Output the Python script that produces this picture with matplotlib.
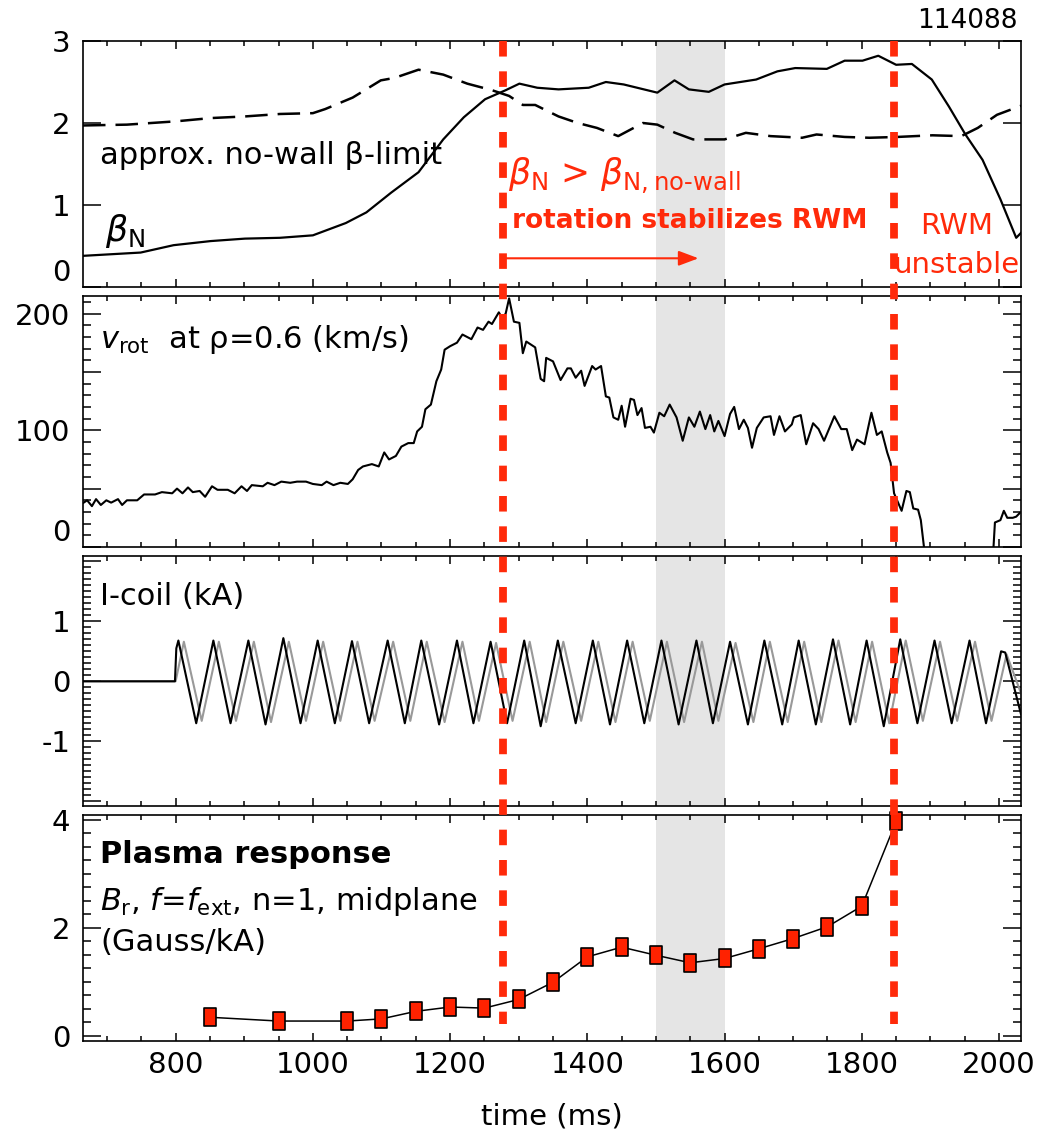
import numpy as np
import matplotlib
matplotlib.use('Agg')
import matplotlib.pyplot as plt
from matplotlib.lines import Line2D
from matplotlib.path import Path
from matplotlib.ticker import MultipleLocator, FuncFormatter
from matplotlib.transforms import blended_transform_factory

plt.rcParams['font.family'] = ['DejaVu Sans']
plt.rcParams['mathtext.fontset'] = 'dejavusans'
plt.rcParams['axes.linewidth'] = 1.2

RED = '#ff2a0a'

# ---- panel 1: beta_N and approx no-wall limit
beta_t = [665, 749, 797, 851, 901, 952, 1000, 1048, 1078, 1114, 1154, 1190, 1220, 1251, 1281,
          1301, 1327, 1358, 1402, 1427, 1453, 1502, 1527, 1548, 1577, 1600, 1646, 1677, 1703,
          1749, 1775, 1801, 1824, 1850, 1873, 1902, 1927, 1951, 1976, 2002, 2025, 2032]
beta_n = [0.38, 0.42, 0.51, 0.56, 0.59, 0.60, 0.63, 0.78, 0.91, 1.15, 1.40, 1.80, 2.07, 2.29, 2.40,
          2.48, 2.43, 2.41, 2.43, 2.50, 2.47, 2.37, 2.52, 2.41, 2.38, 2.47, 2.53, 2.63, 2.67,
          2.66, 2.76, 2.76, 2.82, 2.71, 2.72, 2.53, 2.20, 1.86, 1.55, 1.07, 0.60, 0.66]
nowall_t = [665, 729, 800, 851, 901, 952, 1000, 1018, 1058, 1099, 1119, 1154, 1190, 1225, 1261,
            1286, 1306, 1324, 1358, 1386, 1414, 1445, 1481, 1502, 1528, 1554, 1600, 1631, 1667,
            1713, 1734, 1775, 1811, 1852, 1903, 1945, 1969, 1997, 2032]
nowall = [1.97, 1.98, 2.02, 2.06, 2.08, 2.11, 2.12, 2.17, 2.31, 2.52, 2.55, 2.65, 2.59, 2.48, 2.40,
          2.33, 2.22, 2.22, 2.08, 2.00, 1.94, 1.84, 2.00, 1.98, 1.88, 1.80, 1.80, 1.88, 1.84,
          1.82, 1.86, 1.83, 1.82, 1.83, 1.85, 1.84, 1.94, 2.10, 2.21]

# ---- panel 2: rotation at rho=0.6
vrot_t = [666, 671, 678, 684, 691, 699, 706, 716, 722, 729, 744, 754, 770, 780, 795, 802, 810,
          818, 825, 835, 843, 853, 861, 876, 886, 896, 904, 911, 927, 934, 944, 954, 967, 977,
          990, 1000, 1013, 1020, 1030, 1040, 1051, 1058, 1066, 1073, 1086, 1096, 1104, 1111,
          1121, 1129, 1139, 1147, 1152, 1159, 1164, 1172, 1180, 1187, 1192, 1200, 1210, 1218,
          1231, 1240, 1248, 1256, 1261, 1271, 1276, 1281, 1286, 1293, 1301, 1306, 1311, 1324,
          1332, 1337, 1340, 1350, 1361, 1371, 1376, 1383, 1391, 1396, 1407, 1412, 1420, 1427,
          1432, 1438, 1445, 1450, 1455, 1463, 1468, 1473, 1479, 1484, 1492, 1497, 1505, 1512,
          1520, 1530, 1539, 1548, 1556, 1564, 1572, 1579, 1585, 1591, 1600, 1608, 1614, 1621,
          1628, 1634, 1640, 1647, 1657, 1667, 1672, 1680, 1688, 1698, 1701, 1711, 1719, 1729,
          1737, 1745, 1760, 1770, 1778, 1786, 1793, 1804, 1814, 1822, 1829, 1837, 1842, 1847,
          1858, 1865, 1870, 1875, 1882, 1886, 1891, 1896, 1988, 1994, 2002, 2007, 2012, 2020,
          2025, 2030]
vrot = [38, 40, 35, 41, 36, 40, 38, 41, 36, 40, 40, 45, 45, 47, 46, 50, 46,
        51, 47, 48, 43, 52, 49, 49, 46, 52, 48, 53, 52, 55, 53, 56, 55, 56,
        56, 54, 53, 56, 53, 55, 54, 58, 66, 69, 71, 69, 81, 75,
        78, 86, 89, 89, 99, 103, 118, 122, 142, 152, 169, 172, 175, 182,
        178, 188, 186, 193, 191, 201, 196, 200, 213, 193, 192, 166, 176, 171,
        144, 142, 162, 159, 143, 153, 153, 145, 151, 138, 155, 152, 155, 129,
        128, 111, 109, 121, 103, 127, 126, 113, 119, 102, 103, 98, 115, 112,
        122, 111, 91, 111, 103, 116, 101, 113, 99, 108, 95, 114, 120, 101,
        109, 102, 85, 102, 111, 112, 96, 112, 99, 105, 111, 113, 88, 106,
        101, 91, 112, 101, 101, 83, 92, 88, 115, 96, 99, 81, 72, 46,
        31, 48, 47, 33, 32, 23, -2, -40, -40, 21, 23, 31, 25, 25,
        26, 29]

# ---- panel 3: I-coil current (extrema)
coil_t = [665, 799, 801, 804, 830, 855, 880, 906, 931, 957, 982, 1007, 1032, 1057, 1082, 1109,
          1134, 1158, 1184, 1210, 1234, 1259, 1283, 1308, 1332, 1357, 1383, 1408, 1433, 1458,
          1483, 1508, 1533, 1559, 1583, 1608, 1634, 1658, 1684, 1708, 1733, 1758, 1783, 1807,
          1832, 1856, 1881, 1906, 1931, 1957, 1981, 2003, 2009, 2032]
coil = [0.0, 0.0, 0.55, 0.68, -0.70, 0.68, -0.70, 0.68, -0.72, 0.72, -0.70, 0.68, -0.70, 0.67,
        -0.70, 0.68, -0.70, 0.68, -0.72, 0.68, -0.70, 0.66, -0.70, 0.68, -0.75, 0.68, -0.70,
        0.68, -0.72, 0.68, -0.70, 0.68, -0.72, 0.68, -0.70, 0.66, -0.72, 0.68, -0.72, 0.68,
        -0.72, 0.70, -0.72, 0.68, -0.75, 0.70, -0.70, 0.68, -0.70, 0.68, -0.70, 0.50, 0.48, -0.55]
coil2_t = [665, 800, 812, 838, 863, 888, 914, 939, 965, 990, 1015, 1040, 1065, 1090, 1117, 1142,
           1166, 1192, 1218, 1242, 1267, 1291, 1316, 1340, 1365, 1391, 1416, 1441, 1466, 1491,
           1516, 1541, 1567, 1591, 1616, 1642, 1666, 1692, 1716, 1741, 1766, 1791, 1815, 1840,
           1864, 1889, 1914, 1939, 1965, 1989, 2011, 2032]
coil2 = [0.0, 0.0, 0.66, -0.66, 0.66, -0.66, 0.66, -0.68, 0.66, -0.66, 0.66, -0.66, 0.66, -0.66,
         0.66, -0.66, 0.66, -0.68, 0.66, -0.66, 0.64, -0.66, 0.66, -0.68, 0.66, -0.66, 0.66,
         -0.68, 0.66, -0.66, 0.66, -0.68, 0.66, -0.66, 0.64, -0.68, 0.66, -0.68, 0.66, -0.68,
         0.68, -0.68, 0.66, -0.70, 0.68, -0.66, 0.66, -0.66, 0.66, -0.66, 0.45, -0.20]

# ---- panel 4: plasma response
resp_t = [850, 950, 1050, 1100, 1150, 1200, 1250, 1300, 1350, 1400, 1450, 1500, 1550, 1600,
          1650, 1700, 1750, 1800, 1850]
resp = [0.34, 0.27, 0.27, 0.31, 0.45, 0.53, 0.51, 0.67, 0.99, 1.46, 1.64, 1.49, 1.35, 1.43,
        1.61, 1.80, 2.02, 2.40, 3.97]

t_stab = 1277
t_unst = 1847
band = (1500, 1600)

W, H = 1057, 1136
fig = plt.figure(figsize=(W / 100, H / 100), dpi=100)
L, R = 83, 1021


def pos(top, bottom):
    return [L / W, 1 - bottom / H, (R - L) / W, (bottom - top) / H]


ax1 = fig.add_axes(pos(41, 287))
ax2 = fig.add_axes(pos(296, 547))
ax3 = fig.add_axes(pos(556, 806))
ax4 = fig.add_axes(pos(815, 1041))
axes = [ax1, ax2, ax3, ax4]

for ax in axes:
    ax.set_xlim(665, 2032)
    ax.axvspan(band[0], band[1], color='#e5e5e5', lw=0, zorder=0)
    ax.xaxis.set_major_locator(MultipleLocator(200))
    ax.xaxis.set_minor_locator(MultipleLocator(50))
    ax.tick_params(axis='x', which='both', direction='in', top=True, bottom=True, width=1.1)
    ax.tick_params(axis='x', which='major', length=6)
    ax.tick_params(axis='x', which='minor', length=3.5)
    ax.tick_params(axis='y', which='both', direction='in', left=True, right=True, width=1.1,
                   labelsize=21, pad=9)
    ax.tick_params(axis='y', which='major', length=13)
    ax.tick_params(axis='y', which='minor', length=6)
    if ax is not ax4:
        ax.tick_params(axis='x', labelbottom=False)

# panel 1
ax1.plot(beta_t, beta_n, color='black', lw=1.6)
ax1.plot(nowall_t, nowall, color='black', lw=1.8, dashes=(9, 4))
ax1.set_ylim(0, 3)
ax1.yaxis.set_major_locator(MultipleLocator(1))
ax1.text(690, 1.6, 'approx. no-wall β-limit', fontsize=22, va='center')
ax1.text(697, 0.68, r'$\beta_\mathrm{N}$', fontsize=25, va='center')
ax1.text(1284, 1.35, r'$\beta_\mathrm{N}$ > $\beta_\mathrm{N,no' + '\u2010' + r'wall}$',
         fontsize=25, color=RED, va='center')
ax1.text(1290, 0.8, 'rotation stabilizes RWM', fontsize=19, color=RED, fontweight='bold',
         va='center')
ax1.annotate('', xy=(1562, 0.35), xytext=(1277, 0.35),
             arrowprops=dict(arrowstyle='-|>,head_length=1.2,head_width=0.45', color=RED, lw=1.5,
                             shrinkA=0, shrinkB=0))
ax1.text(1938, 0.75, 'RWM', fontsize=21, color=RED, ha='center', va='center')
ax1.text(1938, 0.27, 'unstable', fontsize=21, color=RED, ha='center', va='center')
fig.text(1018 / W, 1 - 21 / H, '114088', fontsize=19, ha='right', va='center')

# panel 2
ax2.plot(vrot_t, vrot, color='black', lw=1.5)
ax2.set_ylim(0, 215)
ax2.yaxis.set_major_locator(MultipleLocator(50))
ax2.yaxis.set_minor_locator(MultipleLocator(10))
ax2.yaxis.set_major_formatter(FuncFormatter(lambda v, p: '%d' % v if v % 100 == 0 else ''))
ax2.text(690, 178, r'$\mathit{v}_\mathrm{rot}$  at ρ=0.6 (km/s)', fontsize=22, va='center')

# panel 3
ax3.plot(coil2_t, coil2, color='#999999', lw=1.5, solid_joinstyle='round')
ax3.plot(coil_t, coil, color='black', lw=1.5, solid_joinstyle='round')
ax3.set_ylim(-2.08, 2.09)
ax3.yaxis.set_major_locator(MultipleLocator(1))
ax3.yaxis.set_minor_locator(MultipleLocator(0.1))
ax3.yaxis.set_major_formatter(FuncFormatter(lambda v, p: '%d' % round(v) if abs(v) < 1.5 else ''))
ax3.text(690, 1.42, 'I-coil (kA)', fontsize=22, va='center')

# panel 4
box = Path([(-0.72, -1), (0.72, -1), (0.72, 1), (-0.72, 1), (-0.72, -1)],
           [Path.MOVETO, Path.LINETO, Path.LINETO, Path.LINETO, Path.CLOSEPOLY])
ax4.plot(resp_t, resp, color='black', lw=1.1, marker=box, markersize=12.5,
         markerfacecolor='#ff2200', markeredgecolor='black', markeredgewidth=1.2, clip_on=False,
         zorder=4)
ax4.set_ylim(-0.1, 4.09)
ax4.yaxis.set_major_locator(MultipleLocator(2))
ax4.yaxis.set_minor_locator(MultipleLocator(0.25))
ax4.text(690, 3.35, 'Plasma response', fontsize=22, fontweight='bold', va='center')
ax4.text(690, 2.48, r'$B_\mathrm{r}$, $f$=$f_\mathrm{ext}$, n=1, midplane', fontsize=22,
         va='center')
ax4.text(690, 1.72, '(Gauss/kA)', fontsize=22, va='center')
ax4.tick_params(axis='x', labelsize=21, pad=7)
ax4.set_xlabel('time (ms)', fontsize=21, labelpad=17)

# IDL style: the label at the bottom edge of a panel sits just above it
for ax in [ax1, ax2]:
    lo = ax.get_ylim()[0]
    for loc, tick in zip(ax.yaxis.get_majorticklocs(), ax.yaxis.get_major_ticks()):
        if abs(loc - lo) < 1e-6:
            tick.label1.set_verticalalignment('bottom')

# red dashed markers across all panels
trans = blended_transform_factory(ax4.transData, fig.transFigure)
y_top = pos(41, 287)[1] + pos(41, 287)[3]
y_bot = fig.transFigure.inverted().transform(ax4.transData.transform((0, 0.22)))[1]
for tx in [t_stab, t_unst]:
    fig.add_artist(Line2D([tx, tx], [y_top, y_bot], transform=trans, color=RED, lw=5.6,
                          dashes=(2.0, 1.9), zorder=10))

plt.savefig('out.png', dpi=100)
